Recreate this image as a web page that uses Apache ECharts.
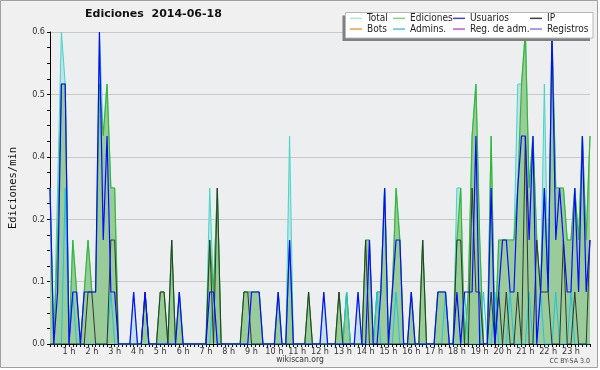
<!DOCTYPE html>
<html><head><meta charset="utf-8">
<script src="https://cdn.jsdelivr.net/npm/echarts@6/dist/echarts.min.js"></script>
<style>html,body{margin:0;padding:0;background:#fff}#c{width:600px;height:370px}</style>
</head><body><div id="c"></div>
<script>
// 10-minute bins, bin 1 (00:10) .. bin 143 (23:50); each row = one hour
const ediciones = [
 .3,0,.2,.5,.5,
 0,.2,.1,0,.1,.2,
 .1,.1,.5,.4,.5,.3,
 .3,0,0,0,0,0,
 0,0,.1,0,0,0,
 .1,.1,0,.2,0,.1,
 0,0,0,0,0,0,
 0,.2,.1,.3,0,0,
 0,0,0,0,.1,.1,
 .1,.1,.1,0,0,0,
 0,.1,0,0,.2,0,
 0,0,0,.1,0,0,
 0,0,0,0,0,.1,
 0,.1,0,0,0,0,
 .2,.2,0,.1,.1,.3,
 0,.1,.3,.2,0,0,
 .1,0,0,.2,0,0,
 0,.1,.1,.1,0,0,
 .2,.3,0,.1,.4,.5,
 .2,0,0,.4,0,.2,
 .2,.2,.2,.2,.3,.5,
 .6,.3,.4,.2,.1,.3,
 .1,.6,.3,.3,.3,.2,
 .2,.3,.2,.4,.2,.4
];
const total = [
 .3,0,.3,.6,.5,
 0,.2,.1,0,.1,.2,
 .1,.1,.6,.4,.5,.3,
 .3,0,0,0,0,.1,
 0,0,.1,0,0,0,
 .1,.1,0,.2,0,.1,
 0,0,0,0,0,0,
 0,.3,.1,.3,0,0,
 0,0,0,0,.1,.1,
 .1,.1,.1,0,0,0,
 0,.1,0,0,.4,0,
 0,0,0,.1,0,0,
 0,.1,0,0,0,.1,
 0,.1,0,0,.1,0,
 .2,.2,0,.1,.1,.3,
 0,.1,.3,.2,0,0,
 .1,0,0,.2,0,0,
 0,.1,.1,.1,0,0,
 .3,.3,0,.1,.4,.5,
 .2,0,0,.4,0,.2,
 .2,.2,.2,.2,.5,.5,
 .6,.3,.4,.2,.1,.5,
 .1,.6,.3,.3,.3,.2,
 .2,.3,.2,.4,.2,.4
];
const usuarios = [
 .3,0,.1,.5,.5,
 0,.1,.1,0,.1,.1,
 .1,.1,.6,.2,.4,.1,
 .1,0,0,0,0,.1,
 0,0,.1,0,0,0,
 0,0,0,0,0,.1,
 0,0,0,0,0,0,
 0,.1,.1,0,0,0,
 0,0,0,0,0,0,
 .1,.1,.1,0,0,0,
 0,.1,0,0,.2,0,
 0,0,0,0,0,0,
 0,.1,0,0,0,0,
 0,0,0,0,.1,0,
 0,.2,0,0,.1,.3,
 0,.1,.2,.2,0,0,
 .1,0,0,0,0,0,
 0,.1,.1,.1,0,0,
 .1,0,.1,.1,.1,.4,
 0,0,0,.3,0,.1,
 .2,.2,.1,.1,.3,.4,
 .4,.2,.4,0,.1,.3,
 .1,.6,.2,.3,.2,.1,
 .1,.3,.1,.4,.1,.2
];
const ip = [
 0,0,0,0,0,
 0,0,0,0,0,.1,
 .1,0,0,0,0,.2,
 .2,0,0,0,0,0,
 0,0,.1,0,0,0,
 .1,.1,0,.2,0,0,
 0,0,0,0,0,0,
 0,.2,0,.3,0,0,
 0,0,0,0,.1,.1,
 0,0,0,0,0,0,
 0,0,0,0,0,0,
 0,0,0,.1,0,0,
 0,0,0,0,0,.1,
 0,0,0,0,0,0,
 .2,0,0,0,0,0,
 0,0,0,0,0,0,
 0,0,0,.2,0,0,
 0,0,0,0,0,0,
 .2,.2,0,0,.3,.1,
 .1,0,0,.1,0,.1,
 0,.1,0,0,.1,0,
 .4,0,0,.2,.1,.1,
 .1,0,0,0,.2,0,
 0,.1,0,0,0,.2
];
const admins = [
 0,0,0,0,.3,
 0,.1,0,0,0,0,
 0,0,0,0,0,.1,
 0,0,0,0,0,0,
 0,0,0,0,0,0,
 0,0,0,0,0,0,
 0,0,0,0,0,0,
 0,0,.1,0,0,0,
 0,0,0,0,0,0,
 0,0,0,0,0,0,
 0,0,0,0,0,0,
 0,0,0,0,0,0,
 0,0,0,0,0,0,
 0,.1,0,0,0,0,
 0,0,0,.1,0,0,
 0,0,.1,0,0,0,
 0,0,0,0,0,0,
 0,0,0,.1,0,0,
 0,0,.1,0,0,0,
 0,.1,0,0,.1,0,
 0,0,.1,0,0,0,
 0,.1,0,0,.1,0,
 0,0,.1,0,0,0,
 .1,0,0,0,0,0
];
const bots = [];
const regAdm = [];
const registros = [];
const hourLabels = ['1 h','2 h','3 h','4 h','5 h','6 h','7 h','8 h','9 h','10 h','11 h','12 h',
  '13 h','14 h','15 h','16 h','17 h','18 h','19 h','20 h','21 h','22 h','23 h'];
const yTicks = [0, 0.12, 0.24, 0.36, 0.48, 0.6];

const bins = [];
for (let b = 1; b <= 143; b++) bins.push(String(b));

const COND = "'DejaVu Sans Condensed', 'DejaVu Sans', sans-serif";
const legendColors = {
  'Total':'#a8e6e0','Bots':'#f0a040','Ediciones':'#88d088','Admins.':'#48c8e0',
  'Usuarios':'#4040e8','Reg. de adm.':'#d050d8','IP':'#404040','Registros':'#8080f0'
};
function legendCol(left, names){
  return {orient:'vertical', left:left, top:13, itemWidth:12, itemHeight:1.5, itemGap:0,
    icon:'rect', selectedMode:false, padding:0, z:10,
    textStyle:{fontFamily:COND, fontSize:10, color:'#222', lineHeight:10.7},
    data:names.map(n=>({name:n, itemStyle:{color:legendColors[n]}}))};
}
function lineSeries(name, data, color, z, width){
  return {name:name, type:'line', data:data, showSymbol:false, symbol:'none', color:color,
    lineStyle:{width:width||1, color:color}, z:z, animation:false};
}
const sTotal = lineSeries('Total', total, '#40d6c6', 1);
sTotal.areaStyle = {color:'#c6e0ea', opacity:1};
const sEd = lineSeries('Ediciones', ediciones, '#36b636', 2, 1.2);
sEd.areaStyle = {color:'#99cc99', opacity:1};

const chart = echarts.init(document.getElementById('c'), null, {renderer:'canvas'});
chart.setOption({
  animation:false,
  backgroundColor:'#ffffff',
  title:{text:'Ediciones  2014-06-18', left:85, top:9, padding:0,
    textStyle:{fontFamily:'DejaVu Sans', fontWeight:'bold', fontSize:11, color:'#111'}},
  legend:[legendCol(350,['Total','Bots']), legendCol(393,['Ediciones','Admins.']),
          legendCol(453,['Usuarios','Reg. de adm.']), legendCol(530,['IP','Registros'])],
  grid:{left:47, right:10, top:32, bottom:26, show:true, backgroundColor:'#eceef0', borderWidth:0},
  xAxis:{type:'category', data:bins, boundaryGap:false,
    axisLine:{lineStyle:{color:'#000', width:1}},
    axisTick:{show:true, interval:0, length:3, lineStyle:{color:'#000'}},
    axisLabel:{interval:(i)=>((i+1)%6===0), formatter:(v)=>hourLabels[(+v)/6-1],
      fontFamily:COND, fontSize:9, color:'#333', margin:3},
    splitLine:{show:false}},
  yAxis:{type:'value', min:yTicks[0], max:yTicks[yTicks.length-1], interval:yTicks[1],
    name:'Ediciones/min', nameLocation:'middle', nameRotate:90, nameGap:31,
    nameTextStyle:{fontFamily:"'DejaVu Sans Mono', monospace", fontSize:10.5, color:'#111'},
    axisLine:{show:true, lineStyle:{color:'#000'}},
    axisTick:{show:true, length:3, lineStyle:{color:'#000'}},
    minorTick:{show:true, splitNumber:4, length:3, lineStyle:{color:'#000'}},
    axisLabel:{formatter:(v)=>v.toFixed(1), fontFamily:COND, fontSize:9, color:'#333', margin:5},
    splitLine:{lineStyle:{color:'#c8c8c8', width:1}}},
  graphic:[
    {type:'rect', z:-10, shape:{x:0.5, y:0.5, width:597, height:367}, style:{fill:'#f0f0f0', stroke:'#a0a0a0', lineWidth:1}},
    {type:'rect', z:8, shape:{x:342.5, y:15.5, width:247.5, height:25.5}, style:{fill:'#808080'}},
    {type:'rect', z:9, shape:{x:345.5, y:12.5, width:247.5, height:25.5}, style:{fill:'#ffffff', stroke:'#b8b8b8', lineWidth:1}},
    {type:'text', z:9, left:'center', top:355, style:{text:'wikiscan.org', font:"8.5px 'DejaVu Sans Condensed', 'DejaVu Sans', sans-serif", fill:'#333'}},
    {type:'text', z:9, right:10, top:358, style:{text:'CC BY-SA 3.0', font:"7px 'DejaVu Sans Condensed', 'DejaVu Sans', sans-serif", fill:'#444'}}
  ],
  series:[
    sTotal, sEd,
    lineSeries('Admins.', admins, '#22c2e0', 3),
    lineSeries('IP', ip, '#303830', 4),
    lineSeries('Usuarios', usuarios, '#0a0aff', 5, 1.2),
    lineSeries('Bots', bots, '#f0a040', 6),
    lineSeries('Reg. de adm.', regAdm, '#d050d8', 6),
    lineSeries('Registros', registros, '#8080f0', 6)
  ]
});
</script></body></html>
